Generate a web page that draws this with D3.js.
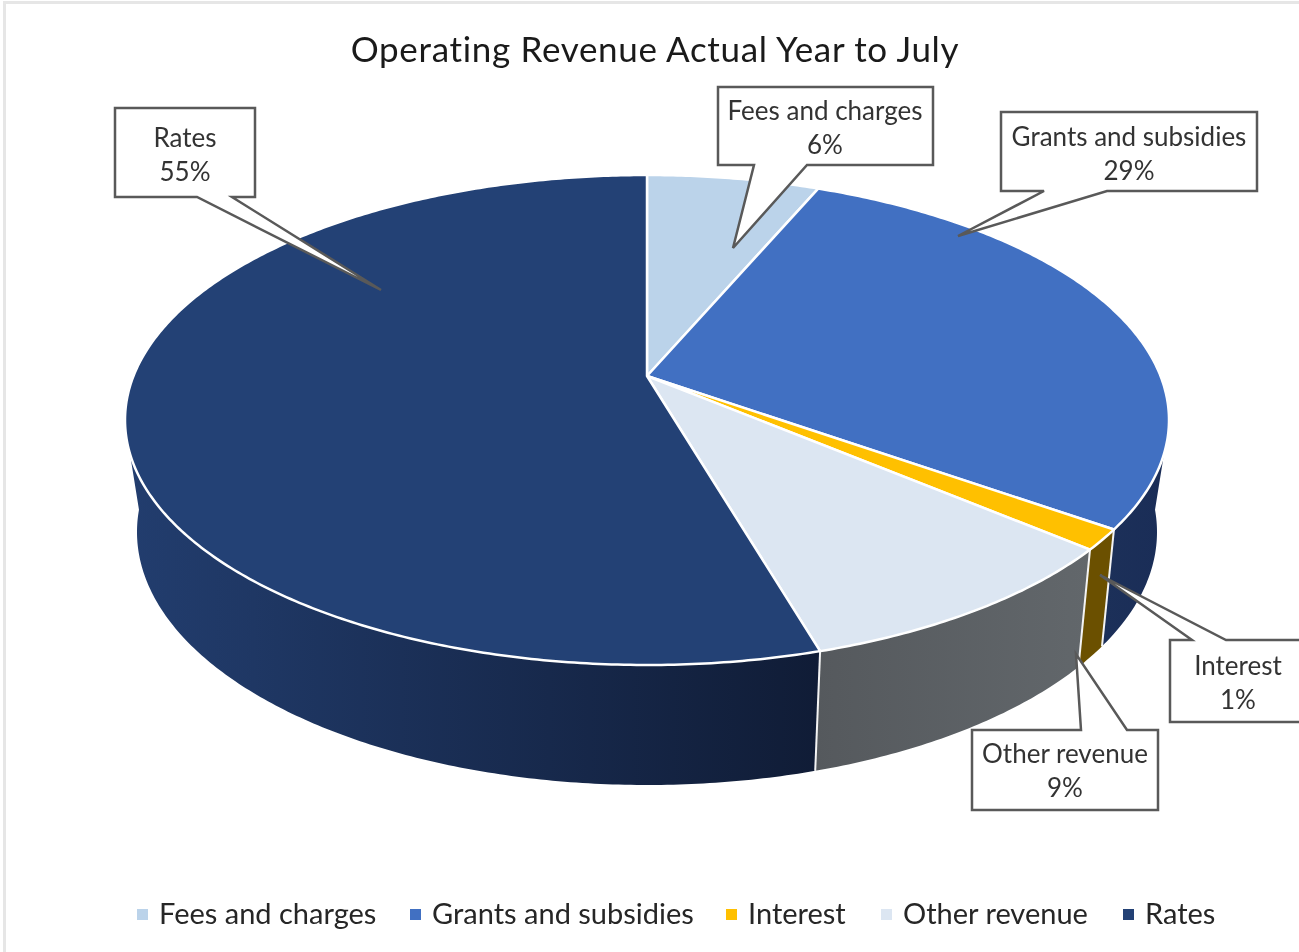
<!DOCTYPE html>
<html>
<head>
<meta charset="utf-8">
<script src="https://cdnjs.cloudflare.com/ajax/libs/d3/7.8.5/d3.min.js"></script>
<style>
html, body { margin: 0; padding: 0; background: #fff; }
svg { display: block; filter: blur(0.7px); }
text { font-family: Lato, "Open Sans", sans-serif; }
</style>
</head>
<body>
<div id="chart"></div>
<script>
var title = "Operating Revenue Actual Year to July";
var categories = ["Fees and charges", "Grants and subsidies", "Interest", "Other revenue", "Rates"];
var shares = [6.35, 28.5, 1.35, 9.3, 54.5];

var topColors = ["#bbd3ea", "#4170c2", "#ffc000", "#dce6f2", "#234175"];
var sideColors = [null, ["#1c3059", "#1a2d57"], ["#6b5000", "#6b5000"], ["#55595d", "#62676b"], ["#223d6e", "#101c36"]];

var width = 1299, height = 952;

// perspective ellipses of the disc, top rim and bottom rim
var topRim = {cx: 647, cy: 420, rx: 522, ry: 245, apex: -44};
var botRim = {cx: 647, cy: 532, rx: 510, ry: 253, apex: -44};

function project(rim, angle) {
    var c = rim.apex / rim.ry;
    var a = rim.rx * Math.sqrt(1 - c * c);
    var u = Math.sin(angle), v = -Math.cos(angle);
    var w = 1 + c * v;
    return [rim.cx + a * u / w, rim.cy + (rim.ry * v + rim.apex) / w];
}

function arcPoints(rim, a0, a1) {
    var n = Math.max(2, Math.ceil(Math.abs(a1 - a0) / 0.01));
    return d3.range(n + 1).map(function(i) {
        return project(rim, a0 + (a1 - a0) * i / n);
    });
}

function rad(deg) { return deg * Math.PI / 180; }

var line = d3.line();

var svg = d3.select("#chart").append("svg")
    .attr("width", width)
    .attr("height", height);

// screenshot edge
svg.append("rect").attr("x", 0).attr("y", 0).attr("width", width).attr("height", height).attr("fill", "#fff");
svg.append("rect").attr("x", 3).attr("y", 1).attr("width", width).attr("height", 3).attr("fill", "#e6e6e6");
svg.append("rect").attr("x", 3).attr("y", 1).attr("width", 3).attr("height", height).attr("fill", "#e6e6e6");

var slices = d3.pie().sort(null).value(function(d) { return d; })(shares);

var defs = svg.append("defs");

// visible part of the wall, between the silhouettes of each rim
var topFrom = rad(108), topTo = rad(252);
var botFrom = rad(95), botTo = rad(265);

slices.forEach(function(s, i) {
    if (!sideColors[i]) return;
    var pts = arcPoints(topRim, Math.max(s.startAngle, topFrom), Math.min(s.endAngle, topTo))
        .concat(arcPoints(botRim, Math.min(s.endAngle, botTo), Math.max(s.startAngle, botFrom)));
    var x = d3.extent(pts, function(p) { return p[0]; });
    var grad = defs.append("linearGradient")
        .attr("id", "side" + i)
        .attr("gradientUnits", "userSpaceOnUse")
        .attr("x1", x[0]).attr("x2", x[1]).attr("y1", 0).attr("y2", 0);
    grad.append("stop").attr("offset", 0).attr("stop-color", sideColors[i][0]);
    grad.append("stop").attr("offset", 1).attr("stop-color", sideColors[i][1]);
    svg.append("path")
        .attr("d", line(pts) + "Z")
        .attr("fill", "url(#side" + i + ")");
});

// white seams on the wall
slices.forEach(function(s) {
    if (s.startAngle < topFrom) return;
    svg.append("path")
        .attr("d", line([project(topRim, s.startAngle), project(botRim, s.startAngle)]))
        .attr("stroke", "#f4f4f4")
        .attr("stroke-width", 2)
        .attr("fill", "none");
});

// top of the disc
var apex = [topRim.cx, topRim.cy + topRim.apex];
slices.forEach(function(s, i) {
    var pts = [apex].concat(arcPoints(topRim, s.startAngle, s.endAngle));
    svg.append("path")
        .attr("d", line(pts) + "Z")
        .attr("fill", topColors[i])
        .attr("stroke", "#fff")
        .attr("stroke-width", 2.5)
        .attr("stroke-linejoin", "round");
});

// callouts: box, pointer base on the box edge, pointer tip
var callouts = [
    {i: 4, box: [115, 108, 255, 197], base: [197, 232], tip: [381, 290], lines: [138, 172], cx: 185},
    {i: 0, box: [718, 87, 933, 165], base: [754, 807], tip: [733, 248], lines: [111, 145], cx: 825},
    {i: 1, box: [1001, 112, 1257, 191], base: [1044, 1107], tip: [958, 236], lines: [137, 171], cx: 1129},
    {i: 2, box: [1170, 640, 1310, 722], base: [1192, 1226], tip: [1100, 575], lines: [666, 700], cx: 1238, top: true},
    {i: 3, box: [972, 730, 1158, 810], base: [1081, 1127], tip: [1076, 654], lines: [754, 788], cx: 1065, top: true}
];

callouts.forEach(function(c) {
    var b = c.box, pts;
    if (c.top) {
        pts = [[b[0], b[1]], [c.base[0], b[1]], c.tip, [c.base[1], b[1]], [b[2], b[1]], [b[2], b[3]], [b[0], b[3]]];
    } else {
        pts = [[b[0], b[1]], [b[2], b[1]], [b[2], b[3]], [c.base[1], b[3]], c.tip, [c.base[0], b[3]], [b[0], b[3]]];
    }
    svg.append("path")
        .attr("d", line(pts) + "Z")
        .attr("fill", "#fff")
        .attr("stroke", "#595959")
        .attr("stroke-width", 2.5);
    svg.append("text")
        .attr("x", c.cx).attr("y", c.lines[0]).attr("dy", "0.35em")
        .attr("text-anchor", "middle")
        .attr("font-size", 26)
        .attr("fill", "#333")
        .text(categories[c.i]);
    svg.append("text")
        .attr("x", c.cx).attr("y", c.lines[1]).attr("dy", "0.35em")
        .attr("text-anchor", "middle")
        .attr("font-size", 26)
        .attr("fill", "#333")
        .text(Math.round(shares[c.i]) + "%");
});

svg.append("text")
    .attr("x", 655).attr("y", 50).attr("dy", "0.35em")
    .attr("text-anchor", "middle")
    .attr("font-size", 35)
    .attr("letter-spacing", 0.67)
    .attr("fill", "#1a1a1a")
    .text(title);

// legend
var legendX = [137, 410, 726, 881, 1123];
categories.forEach(function(name, i) {
    svg.append("rect")
        .attr("x", legendX[i]).attr("y", 909)
        .attr("width", 11).attr("height", 11)
        .attr("fill", topColors[i]);
    svg.append("text")
        .attr("x", legendX[i] + 22).attr("y", 914).attr("dy", "0.35em")
        .attr("font-size", 29)
        .attr("fill", "#262626")
        .text(name);
});
</script>
</body>
</html>
